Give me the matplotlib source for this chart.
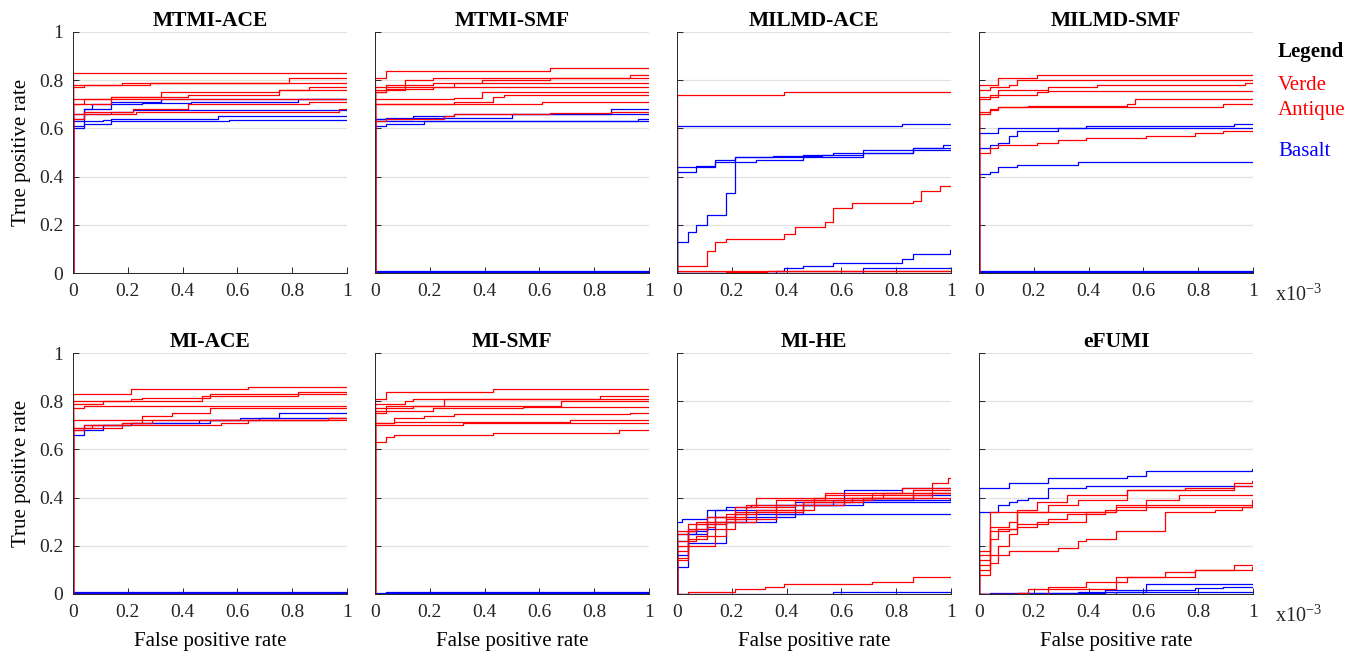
import matplotlib
matplotlib.use("Agg")
import matplotlib.pyplot as plt

plt.rcParams['font.family'] = ['Liberation Serif', 'DejaVu Serif']
plt.rcParams['mathtext.fontset'] = 'custom'
plt.rcParams['mathtext.rm'] = 'Liberation Serif'

# ROC curves per detector, FPR in units of 1e-3.
# Each curve: (fpr where TPR steps up, TPR after the step)

mtmi_ace_verde = [
    ([0], [0.83]),
    ([0, 0.18, 0.79], [0.78, 0.79, 0.81]),
    ([0, 0.04, 0.28, 0.85], [0.77, 0.78, 0.79, 0.79]),
    ([0, 0.14, 0.32, 0.75, 0.86], [0.72, 0.73, 0.75, 0.76, 0.77]),
    ([0, 0.14, 0.42, 0.75], [0.70, 0.73, 0.74, 0.76]),
    ([0, 0.04, 0.22, 0.42, 0.86], [0.64, 0.67, 0.68, 0.70, 0.71]),
    ([0, 0.23, 0.97], [0.66, 0.67, 0.68]),
    ([0, 0.04], [0.70, 0.72]),
]
mtmi_ace_basalt = [
    ([0, 0.04, 0.14, 0.32], [0.64, 0.68, 0.71, 0.72]),
    ([0, 0.04, 0.07, 0.25, 0.43, 0.82], [0.66, 0.68, 0.70, 0.705, 0.71, 0.72]),
    ([0, 0.04, 0.14, 0.22], [0.63, 0.66, 0.67, 0.675]),
    ([0, 0.04, 0.11, 0.14, 0.53], [0.60, 0.63, 0.635, 0.64, 0.65]),
    ([0, 0.04, 0.14, 0.57], [0.61, 0.62, 0.63, 0.635]),
]

mtmi_smf_verde = [
    ([0, 0.04, 0.64], [0.81, 0.84, 0.85]),
    ([0, 0.11, 0.21, 0.93], [0.77, 0.80, 0.81, 0.82]),
    ([0, 0.04, 0.21, 0.39, 0.64], [0.75, 0.78, 0.79, 0.80, 0.81]),
    ([0, 0.11, 0.29], [0.76, 0.77, 0.79]),
    ([0, 0.04, 0.21], [0.75, 0.765, 0.77]),
    ([0, 0.29, 0.43, 0.47], [0.70, 0.71, 0.73, 0.74]),
    ([0, 0.29, 0.39], [0.72, 0.725, 0.75]),
    ([0, 0.61], [0.70, 0.71]),
    ([0, 0.04, 0.25, 0.29, 0.64, 0.86], [0.63, 0.64, 0.65, 0.66, 0.665, 0.67]),
]
mtmi_smf_basalt = [
    ([0, 0.14, 0.29, 0.86], [0.64, 0.65, 0.66, 0.68]),
    ([0, 0.04, 0.5], [0.64, 0.645, 0.66]),
    ([0, 0.04, 0.18], [0.61, 0.62, 0.63]),
    ([0, 0.96], [0.63, 0.64]),
    ([0], [0.01]),
    ([0], [0.005]),
]

milmd_ace_verde = [
    ([0, 0.39], [0.74, 0.75]),
    ([0, 0.11, 0.14, 0.18, 0.39, 0.43, 0.54, 0.57, 0.64, 0.86, 0.89, 0.96],
     [0.03, 0.09, 0.13, 0.14, 0.16, 0.19, 0.21, 0.27, 0.29, 0.30, 0.34, 0.36]),
    ([0], [0.01]),
    ([0, 0.18, 0.33], [0.0, 0.005, 0.01]),
]
milmd_ace_basalt = [
    ([0, 0.82], [0.61, 0.62]),
    ([0, 0.07, 0.14, 0.21, 0.46, 0.57, 0.86, 0.97],
     [0.42, 0.44, 0.47, 0.48, 0.49, 0.50, 0.52, 0.53]),
    ([0, 0.07, 0.14, 0.21, 0.35, 0.53, 0.68], [0.44, 0.445, 0.46, 0.48, 0.485, 0.49, 0.51]),
    ([0, 0.04, 0.07, 0.11, 0.18, 0.21, 0.29, 0.46, 0.68, 0.86],
     [0.13, 0.17, 0.20, 0.24, 0.33, 0.46, 0.47, 0.48, 0.50, 0.52]),
    ([0, 0.36, 0.39, 0.46, 0.57, 0.82, 0.86, 0.995],
     [0.0, 0.01, 0.02, 0.03, 0.04, 0.06, 0.08, 0.095]),
    ([0, 0.68], [0.0, 0.02]),
]

milmd_smf_verde = [
    ([0, 0.07, 0.21], [0.78, 0.81, 0.82]),
    ([0, 0.04, 0.11, 0.14], [0.76, 0.77, 0.78, 0.80]),
    ([0, 0.07, 0.25, 0.43, 0.97], [0.73, 0.76, 0.77, 0.78, 0.79]),
    ([0, 0.04, 0.21, 0.25], [0.72, 0.74, 0.75, 0.755]),
    ([0, 0.04, 0.07, 0.18, 0.54, 0.57], [0.66, 0.68, 0.69, 0.695, 0.70, 0.72]),
    ([0, 0.04, 0.07, 0.89], [0.67, 0.675, 0.69, 0.70]),
    ([0, 0.04, 0.07, 0.21, 0.29, 0.39, 0.61, 0.79, 0.89],
     [0.50, 0.52, 0.53, 0.54, 0.55, 0.56, 0.57, 0.58, 0.59]),
]
milmd_smf_basalt = [
    ([0, 0.07, 0.29, 0.39, 0.75, 0.93], [0.58, 0.60, 0.60, 0.61, 0.61, 0.62]),
    ([0, 0.04, 0.07, 0.11, 0.14, 0.29], [0.52, 0.53, 0.54, 0.57, 0.59, 0.60]),
    ([0, 0.04, 0.07, 0.14, 0.36], [0.41, 0.42, 0.44, 0.45, 0.46]),
    ([0], [0.01]),
    ([0], [0.005]),
]

mi_ace_verde = [
    ([0, 0.21, 0.64], [0.83, 0.85, 0.86]),
    ([0, 0.11, 0.47, 0.82], [0.79, 0.80, 0.82, 0.84]),
    ([0, 0.21, 0.25, 0.50], [0.80, 0.81, 0.815, 0.83]),
    ([0, 0.04, 0.29], [0.77, 0.78, 0.78]),
    ([0, 0.25, 0.36, 0.50], [0.72, 0.74, 0.75, 0.77]),
    ([0, 0.18, 0.29, 0.32, 0.93], [0.69, 0.71, 0.72, 0.72, 0.73]),
    ([0, 0.04, 0.18, 0.25], [0.68, 0.70, 0.71, 0.72]),
    ([0, 0.07, 0.54, 0.64, 0.93], [0.69, 0.70, 0.71, 0.72, 0.73]),
    ([0], [0.0]),
]
mi_ace_basalt = [
    ([0, 0.04, 0.11, 0.21, 0.46, 0.61, 0.75], [0.66, 0.68, 0.70, 0.71, 0.72, 0.73, 0.75]),
    ([0, 0.04, 0.21, 0.50, 0.68], [0.68, 0.70, 0.71, 0.72, 0.73]),
    ([0], [0.01]),
    ([0], [0.005]),
]

mi_smf_verde = [
    ([0, 0.04, 0.43], [0.81, 0.84, 0.85]),
    ([0, 0.11, 0.14, 0.82], [0.79, 0.80, 0.81, 0.82]),
    ([0, 0.14, 0.25], [0.77, 0.78, 0.81]),
    ([0, 0.04, 0.68], [0.76, 0.78, 0.80]),
    ([0, 0.04, 0.21, 0.54], [0.75, 0.76, 0.77, 0.775]),
    ([0, 0.07, 0.18, 0.29, 0.93], [0.71, 0.73, 0.74, 0.745, 0.75]),
    ([0, 0.07, 0.71], [0.71, 0.715, 0.72]),
    ([0, 0.32], [0.70, 0.71]),
    ([0, 0.04, 0.07, 0.43, 0.89], [0.63, 0.65, 0.66, 0.67, 0.68]),
]
mi_smf_basalt = [
    ([0, 0.04], [0.0, 0.01]),
    ([0], [0.005]),
]

mi_he_verde = [
    ([0, 0.04, 0.11, 0.21, 0.29, 0.54, 0.82, 0.93, 0.99],
     [0.25, 0.29, 0.32, 0.36, 0.40, 0.42, 0.44, 0.46, 0.48]),
    ([0, 0.04, 0.11, 0.18, 0.25, 0.36, 0.54, 0.93],
     [0.22, 0.27, 0.30, 0.33, 0.37, 0.39, 0.41, 0.44]),
    ([0, 0.04, 0.11, 0.14, 0.25, 0.43, 0.71], [0.18, 0.23, 0.28, 0.32, 0.36, 0.39, 0.42]),
    ([0, 0.04, 0.07, 0.18, 0.29, 0.46, 0.64, 0.86],
     [0.14, 0.22, 0.24, 0.30, 0.35, 0.38, 0.40, 0.43]),
    ([0, 0.04, 0.14, 0.21, 0.36, 0.50, 0.75], [0.15, 0.20, 0.27, 0.31, 0.35, 0.40, 0.42]),
    ([0, 0.04, 0.07, 0.18, 0.25, 0.29, 0.46, 0.68],
     [0.20, 0.26, 0.29, 0.31, 0.33, 0.34, 0.38, 0.40]),
    ([0, 0.07, 0.21, 0.36, 0.61, 0.93], [0.26, 0.30, 0.34, 0.37, 0.40, 0.42]),
    ([0, 0.04, 0.21, 0.32, 0.39, 0.71, 0.86], [0.0, 0.01, 0.02, 0.03, 0.04, 0.05, 0.07]),
]
mi_he_basalt = [
    ([0, 0.02, 0.11, 0.18, 0.27, 0.61, 0.82], [0.30, 0.31, 0.35, 0.36, 0.37, 0.43, 0.44]),
    ([0, 0.04, 0.11, 0.14, 0.36, 0.57, 0.995], [0.22, 0.25, 0.29, 0.35, 0.37, 0.39, 0.40]),
    ([0, 0.04, 0.18, 0.36], [0.11, 0.21, 0.30, 0.33]),
    ([0, 0.04, 0.11, 0.21, 0.46, 0.68, 0.86], [0.16, 0.26, 0.32, 0.33, 0.37, 0.39, 0.41]),
    ([0, 0.07, 0.14, 0.25, 0.43], [0.25, 0.27, 0.30, 0.32, 0.38]),
    ([0, 0.57], [0.0, 0.01]),
]

efumi_verde = [
    ([0, 0.04, 0.14, 0.21, 0.32, 0.54, 0.75, 0.93, 0.995],
     [0.12, 0.34, 0.35, 0.38, 0.41, 0.43, 0.44, 0.46, 0.47]),
    ([0, 0.04, 0.11, 0.14, 0.25, 0.36, 0.54, 0.93],
     [0.18, 0.28, 0.30, 0.34, 0.37, 0.39, 0.43, 0.45]),
    ([0, 0.04, 0.07, 0.14, 0.25, 0.39, 0.50, 0.61, 0.73],
     [0.10, 0.23, 0.27, 0.29, 0.30, 0.34, 0.36, 0.39, 0.41]),
    ([0, 0.04, 0.07, 0.11, 0.14, 0.21, 0.25, 0.32, 0.46, 0.61, 0.995],
     [0.08, 0.13, 0.20, 0.25, 0.28, 0.30, 0.31, 0.33, 0.35, 0.36, 0.39]),
    ([0, 0.11, 0.29, 0.36, 0.39, 0.50, 0.68, 0.86, 0.96],
     [0.16, 0.18, 0.19, 0.22, 0.23, 0.26, 0.34, 0.35, 0.36]),
    ([0, 0.04, 0.11, 0.14, 0.50], [0.14, 0.26, 0.27, 0.34, 0.37]),
    ([0, 0.14, 0.18, 0.25, 0.39, 0.54, 0.79, 0.93],
     [0.0, 0.005, 0.02, 0.03, 0.05, 0.07, 0.10, 0.12]),
    ([0, 0.25, 0.50, 0.68, 0.79, 0.995], [0.0, 0.02, 0.07, 0.09, 0.10, 0.11]),
]
efumi_basalt = [
    ([0, 0.11, 0.25, 0.54, 0.61, 0.995], [0.44, 0.46, 0.48, 0.49, 0.51, 0.52]),
    ([0, 0, 0.07, 0.11, 0.14, 0.18, 0.25, 0.39], [0.26, 0.34, 0.37, 0.38, 0.39, 0.40, 0.44, 0.45]),
    ([0, 0.04, 0.36, 0.61], [0.0, 0.005, 0.01, 0.04]),
    ([0, 0.14, 0.46, 0.79, 0.89], [0.0, 0.005, 0.015, 0.025, 0.03]),
    ([0, 0.50], [0.0, 0.01]),
]

titles = ["MTMI-ACE", "MTMI-SMF", "MILMD-ACE", "MILMD-SMF",
          "MI-ACE", "MI-SMF", "MI-HE", "eFUMI"]
verde_curves = [mtmi_ace_verde, mtmi_smf_verde, milmd_ace_verde, milmd_smf_verde,
                mi_ace_verde, mi_smf_verde, mi_he_verde, efumi_verde]
basalt_curves = [mtmi_ace_basalt, mtmi_smf_basalt, milmd_ace_basalt, milmd_smf_basalt,
                 mi_ace_basalt, mi_smf_basalt, mi_he_basalt, efumi_basalt]

W, H = 1361, 658
fig = plt.figure(figsize=(W / 100, H / 100), dpi=100)

col_left = [73, 375, 677, 979]
row_top = [32, 353]
ax_w, ax_h = 274, 241


def draw_roc(ax, curve, color):
    xs, ys = curve
    x = [0, 0] + list(xs) + [1]
    y = [0, ys[0]] + list(ys) + [ys[-1]]
    ax.step(x, y, where='post', color=color, lw=0.9)


for i, title in enumerate(titles):
    r, c = divmod(i, 4)
    ax = fig.add_axes([col_left[c] / W, 1 - (row_top[r] + ax_h) / H, ax_w / W, ax_h / H])

    for curve in basalt_curves[i]:
        draw_roc(ax, curve, 'blue')
    for curve in verde_curves[i]:
        draw_roc(ax, curve, 'red')

    ax.set_xlim(0, 1)
    ax.set_ylim(0, 1)
    ax.set_xticks([0, 0.2, 0.4, 0.6, 0.8, 1])
    ax.set_xticklabels(["0", "0.2", "0.4", "0.6", "0.8", "1"])
    ax.set_yticks([0, 0.2, 0.4, 0.6, 0.8, 1])
    ax.set_yticklabels(["0", "0.2", "0.4", "0.6", "0.8", "1"])
    ax.grid(axis='y', color='#e3e3e3', lw=0.9)
    ax.set_axisbelow(True)
    for side in ['top', 'right']:
        ax.spines[side].set_visible(False)
    for side in ['left', 'bottom']:
        ax.spines[side].set_color('#262626')
        ax.spines[side].set_linewidth(0.7)
    ax.tick_params(direction='in', length=4, width=0.7, color='#262626',
                   labelsize=14, labelcolor='#262626', pad=7)
    ax.set_title(title, fontsize=15.5, fontweight='bold', pad=4)

    if c == 0:
        ax.set_ylabel("True positive rate", fontsize=15, labelpad=6)
    else:
        ax.tick_params(labelleft=False)
    if r == 1:
        ax.set_xlabel("False positive rate", fontsize=15, labelpad=8)
    if c == 3:
        ax.text(1.08, -0.09, r"x10$^{\mathregular{-3}}$", transform=ax.transAxes,
                fontsize=14.5, color='#262626', ha='left', va='center')

# legend text
fig.text(1278 / W, 1 - 52 / H, "Legend", fontsize=15, fontweight='bold', va='center')
fig.text(1278 / W, 1 - 85 / H, "Verde", fontsize=15, color='red', va='center')
fig.text(1278 / W, 1 - 110 / H, "Antique", fontsize=15, color='red', va='center')
fig.text(1278 / W, 1 - 152 / H, "Basalt", fontsize=15, color='blue', va='center')

fig.savefig("out.png", dpi=100)
